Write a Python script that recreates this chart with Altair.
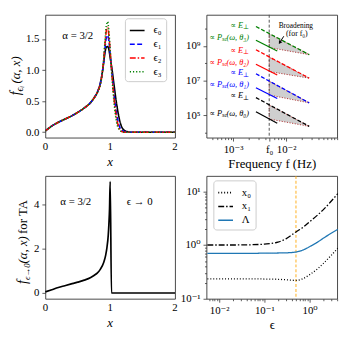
import altair as alt
import pandas as pd

FONT = "Liberation Serif, DejaVu Serif, serif"

# ---------------- (a) f_{eps_i}(alpha, x), alpha = 3/2 ----------------
xa = [0, .1, .2, .3, .4, .5, .6, .7, .75, .8, .85, .88, .9, .92, .94, .96, .98, 1.0,
      1.03, 1.06, 1.1, 1.14, 1.18, 1.22, 1.26, 1.3, 1.5, 2.0]
fa_eps0 = [.02, .10, .16, .21, .26, .32, .39, .48, .55, .64, .80, .97, 1.12, 1.28, 1.37, 1.38, 1.33, 1.20,
           1.00, .76, .45, .22, .08, .03, .01, 0, 0, 0]
fa_eps1 = [.02, .10, .16, .21, .26, .32, .39, .48, .55, .64, .79, .97, 1.14, 1.35, 1.52, 1.56, 1.47, 1.26,
           .93, .61, .29, .10, .03, .01, 0, 0, 0, 0]
fa_eps2 = [.02, .10, .16, .21, .26, .32, .39, .48, .55, .64, .78, .97, 1.16, 1.42, 1.63, 1.69, 1.56, 1.30,
           .90, .54, .22, .06, .01, 0, 0, 0, 0, 0]
fa_eps3 = [.02, .10, .16, .21, .26, .32, .39, .48, .55, .63, .77, .96, 1.17, 1.46, 1.71, 1.78, 1.62, 1.32,
           .86, .48, .16, .04, .01, 0, 0, 0, 0, 0]
eps_labels = ["ϵ₀", "ϵ₁", "ϵ₂", "ϵ₃"]
eps_colors = ["black", "blue", "red", "green"]
eps_dashes = [[1, 0], [5, 2.5], [6, 2, 1.5, 2], [1.2, 2]]
x_ticks = [0, 1, 2]
x_tick_labels = ["0", "1", "2"]

# ---------------- (b) spectra vs frequency ----------------
groups_b = ["θ₃", "θ₂", "θ₁", "θ₀"]
colors_b = ["green", "red", "blue", "black"]
f_E = [0.0027, 0.0272]          # start / end frequency of the  ∝ E⊥ (dashed) lines
f_P = [0.0027, 0.0068]          # start / end frequency of the  ∝ P_sc (solid) lines
logE_start = [10.11, 8.77, 7.39, 6.02]
logE_end = [8.49, 7.14, 5.72, 4.37]
logP_start = [9.32, 7.94, 6.59, 5.21]
logP_end = [8.70, 7.32, 5.97, 4.55]
logT_top = [9.68, 8.34, 6.96, 5.59]   # broadening triangle at f0 (upper vertex)
logT_bot = [8.90, 7.52, 6.17, 4.79]   # broadening triangle at f0 (lower vertex)
f0 = 0.0048
f_lab = 0.0020
logLabE = [10.2, 8.76, 7.47, 6.16]
logLabP = [9.49, 8.08, 6.81, 5.12]
xb_minor = [0.0004, 0.0005, 0.0006, 0.0007, 0.0008, 0.0009, 0.002, 0.003, 0.004, 0.006, 0.007,
            0.008, 0.009, 0.02, 0.03, 0.04, 0.05, 0.06, 0.07, 0.08, 0.09]
yb_minor = [1e4, 1e6, 1e8, 1e10]

# ---------------- (c) f_{eps->0}(alpha, x) for TA ----------------
xc = [0, .1, .2, .3, .4, .5, .6, .7, .75, .8, .85, .9, .93, .95, .97, .98, .99, 1.0, 1.02, 1.5, 2.0]
fc = [.05, .15, .25, .33, .41, .49, .58, .70, .79, .90, 1.08, 1.38, 1.70, 2.05, 2.6, 3.1, 3.8, 5.03,
      0.0, 0.0, 0.0]

# ---------------- (d) x0, x1, Lambda vs eps ----------------
eps_d = [0.0055, 0.01, 0.02, 0.05, 0.1, 0.2, 0.3, 0.5, 0.7, 1.0, 1.5, 2.0, 3.0, 4.2]
x0_d = [.235, .235, .235, .234, .233, .23, .226, .22, .235, .28, .36, .45, .64, .87]
x1_d = [1.0, 1.0, 1.0, 1.01, 1.04, 1.13, 1.3, 1.75, 2.1, 2.7, 3.6, 4.5, 6.5, 9.0]
lam_d = [.70, .70, .70, .70, .705, .71, .715, .74, .80, .93, 1.13, 1.33, 1.65, 1.95]
series_d = ["x₀", "x₁", "Λ"]
eps_mark = 0.5
xd_minor = [0.006, 0.007, 0.008, 0.009, 0.02, 0.03, 0.04, 0.05, 0.06, 0.07, 0.08, 0.09,
            0.2, 0.3, 0.4, 0.5, 0.6, 0.7, 0.8, 0.9, 2, 3, 4]
yd_minor = [0.2, 0.3, 0.4, 0.5, 0.6, 0.7, 0.8, 0.9, 2, 3, 4, 5, 6, 7, 8, 9]

W1, W2, H = 132, 133, 125
INT_LABEL = "datum.value < 0.5 ? '0' : (datum.value < 1.5 ? '1' : (datum.value < 3 ? '2' : '4'))"


def ptext(s, x, y, size=11, style="normal", align="center", dx=0, dy=0, angle=0, color="black"):
    return alt.Chart(pd.DataFrame({"t": [s]})).mark_text(
        font=FONT, fontSize=size, fontStyle=style, align=align, baseline="middle",
        dx=dx, dy=dy, angle=angle, color=color
    ).encode(x=alt.value(x), y=alt.value(y), text="t:N")


def leg(x, y):
    return alt.Legend(title=None, orient="none", legendX=x, legendY=y, symbolType="stroke",
                      symbolSize=225, symbolStrokeWidth=1.6, labelFont=FONT, labelFontSize=11,
                      labelOffset=8, rowPadding=0, padding=4, fillColor="white",
                      strokeColor="#cccccc", cornerRadius=3)


def int_axis():
    return alt.Axis(values=x_ticks, labels=False, title=None)


def x_label_layer(scale):
    # tick labels of the linear x axes, placed on the shared scale
    return alt.Chart(pd.DataFrame({"v": x_ticks, "t": x_tick_labels})).mark_text(
        font=FONT, fontSize=11, baseline="middle", align="center", color="black"
    ).encode(x=alt.X("v:Q", scale=scale, axis=None), y=alt.value(H + 9.5), text="t:N")


# ================= panel (a) =================
dfa = pd.DataFrame({
    "x": xa * 4,
    "f": fa_eps0 + fa_eps1 + fa_eps2 + fa_eps3,
    "s": sum([[l] * len(xa) for l in eps_labels], []),
})
xs_a = alt.Scale(domain=[0, 2], nice=False, zero=False)
ys_a = alt.Scale(domain=[-0.087, 1.89], nice=False, zero=False)
lines_a = alt.Chart(dfa).mark_line(strokeWidth=1.6, interpolate="monotone", clip=True).encode(
    x=alt.X("x:Q", scale=xs_a, axis=int_axis()),
    y=alt.Y("f:Q", scale=ys_a, axis=alt.Axis(values=[0, 0.5, 1, 1.5], format=".1f", title=None)),
    color=alt.Color("s:N", scale=alt.Scale(domain=eps_labels, range=eps_colors), legend=leg(81, 3.5)),
    strokeDash=alt.StrokeDash("s:N", scale=alt.Scale(domain=eps_labels, range=eps_dashes), legend=leg(81, 3.5)),
    order=alt.Order("x:Q"),
)
# rotated y title: dx runs along the text (upwards), dy is perpendicular (+ = towards the plot)
ya_title = [
    ptext("f", -30, 78, size=14, style="italic", align="right", angle=270),
    ptext("ϵᵢ", -30, 78, size=10, style="italic", align="left", dy=4, angle=270),
    ptext("(α, x)", -30, 78, size=13, style="italic", align="left", dx=8, angle=270),
]
pA = alt.layer(lines_a, x_label_layer(xs_a), ptext("α = 3/2", 33, 21.5, size=11), *ya_title,
               ptext("x", W1 / 2, H + 25, size=13, style="italic")).properties(width=W1, height=H)

# ================= panel (b) =================
xs_b = alt.Scale(type="log", domain=[10 ** -3.5, 10 ** -1.04], nice=False)
ys_b = alt.Scale(type="log", domain=[10 ** 3.72, 10 ** 10.78], nice=False)

rowsE, rowsP, rowsA, rowsO = [], [], [], []
for i, g in enumerate(groups_b):
    rowsE += [(g, f_E[0], 10 ** logE_start[i]), (g, f_E[1], 10 ** logE_end[i])]
    rowsP += [(g, f_P[0], 10 ** logP_start[i]), (g, f_P[1], 10 ** logP_end[i])]
    rowsA += [(g, f0, 10 ** logT_bot[i], 10 ** logT_top[i]), (g, f_E[1], 10 ** logE_end[i], 10 ** logE_end[i])]
    rowsO += [(g, 0, f0, 10 ** logT_top[i]), (g, 1, f0, 10 ** logT_bot[i]),
              (g, 2, f_E[1], 10 ** logE_end[i]), (g, 3, f0, 10 ** logT_top[i])]
dfE = pd.DataFrame(rowsE, columns=["g", "f", "v"])
dfP = pd.DataFrame(rowsP, columns=["g", "f", "v"])
dfA = pd.DataFrame(rowsA, columns=["g", "f", "lo", "hi"])
dfO = pd.DataFrame(rowsO, columns=["g", "o", "f", "v"])
cscale_b = alt.Scale(domain=groups_b, range=colors_b)


def xb(field="f", axis=None):
    return alt.X(field + ":Q", scale=xs_b, axis=axis)


def yb(field="v", axis=None):
    return alt.Y(field + ":Q", scale=ys_b, axis=axis)


tri_fill = alt.Chart(dfA).mark_area(color="#cfcfcf", opacity=1).encode(
    x=xb(), y=yb("lo"), y2="hi:Q", detail="g:N")
tri_line = alt.Chart(dfO).mark_line(color="#b03a3a", strokeDash=[1.2, 1.5], strokeWidth=1).encode(
    x=xb(), y=yb(), detail="g:N", order="o:Q")
f0_rule = alt.Chart(pd.DataFrame({"f": [f0]})).mark_rule(color="#555", strokeDash=[3, 2], strokeWidth=1).encode(
    x=xb())
main_xb = alt.Axis(values=[0.001, f0, 0.01], title="Frequency f (Hz)", orient="bottom",
                   labelExpr="datum.value < 0.002 ? '10⁻³' : (datum.value < 0.006 ? 'f₀' : '10⁻²')")
main_yb = alt.Axis(values=[1e5, 1e7, 1e9], title=None, orient="left",
                   labelExpr="datum.value < 1e6 ? '10⁵' : (datum.value < 1e8 ? '10⁷' : '10⁹')")
E_lines = alt.Chart(dfE).mark_line(strokeDash=[4, 2], strokeWidth=1.3).encode(
    x=xb(axis=main_xb), y=yb(axis=main_yb), color=alt.Color("g:N", scale=cscale_b, legend=None), detail="g:N")
P_lines = alt.Chart(dfP).mark_line(strokeWidth=1.3).encode(
    x=xb(), y=yb(), color=alt.Color("g:N", scale=cscale_b, legend=None), detail="g:N")
minor_b = alt.Chart(dfE).mark_point(opacity=0).encode(
    x=xb(axis=alt.Axis(values=xb_minor, labels=False, tickSize=2, title=None, orient="bottom")),
    y=yb(axis=alt.Axis(values=yb_minor, labels=False, tickSize=2, title=None, orient="left")))

labE = pd.DataFrame({"f": [f_lab] * 4, "v": [10 ** v for v in logLabE], "c": colors_b})
labP = pd.DataFrame({"f": [f_lab] * 4, "v": [10 ** v for v in logLabP], "c": colors_b,
                     "t": ["(ω, " + g + ")" for g in groups_b]})


def labtext(df, txt=None, size=8.5, dx=0, dy=0, style="italic"):
    enc = dict(x=xb(), y=yb(), color=alt.Color("c:N", scale=None))
    mk = dict(font=FONT, fontSize=size, fontStyle=style, align="right", baseline="middle", dx=dx, dy=dy)
    if txt is None:
        return alt.Chart(df).mark_text(**mk).encode(text="t:N", **enc)
    return alt.Chart(df).mark_text(text=txt, **mk).encode(**enc)


labels_b = [
    labtext(labE, "∝ E", dx=-6),
    labtext(labE, "⊥", size=6.5, dy=2.5),
    labtext(labP),
    labtext(labP, "sc", size=6.5, dx=-22, dy=2),
    labtext(labP, "∝ P", dx=-27.5),
]
arrow = alt.Chart(pd.DataFrame({"a": [0]})).mark_rule(color="black", strokeWidth=1).encode(
    x=alt.value(78.7), y=alt.value(21.8), x2=alt.value(75.2), y2=alt.value(27.2))
head = alt.Chart(pd.DataFrame({"a": [0]})).mark_point(
    shape="triangle-down", filled=True, color="black", size=16, angle=32, opacity=1).encode(
    x=alt.value(74.6), y=alt.value(28.2))
pB = alt.layer(
    tri_fill, tri_line, f0_rule, E_lines, P_lines, minor_b, *labels_b, arrow, head,
    ptext("Broadening", 91, 11.2, size=7.5),
    ptext("(for f₀)", 92, 19.4, size=8),
).resolve_axis(x="independent", y="independent").properties(width=W2, height=H)

# ================= panel (c) =================
dfc = pd.DataFrame({"x": xc, "f": fc})
xs_c = alt.Scale(domain=[0, 2], nice=False, zero=False)
line_c = alt.Chart(dfc).mark_line(color="black", strokeWidth=1.7, interpolate="monotone").encode(
    x=alt.X("x:Q", scale=xs_c, axis=int_axis()),
    y=alt.Y("f:Q", scale=alt.Scale(domain=[-0.26, 5.28], nice=False, zero=False),
            axis=alt.Axis(values=[0, 2, 4], labelExpr=INT_LABEL, title=None)),
    order="x:Q",
)
yc_title = [
    ptext("f", -23, 106, size=14, style="italic", align="right", angle=270),
    ptext("ϵ→0", -23, 106, size=9, style="italic", align="left", dy=4, angle=270),
    ptext("(α, x)", -23, 106, size=13, style="italic", align="left", dx=17, angle=270),
    ptext("for TA", -23, 106, size=13, align="left", dx=47, angle=270),
]
pC = alt.layer(line_c, x_label_layer(xs_c), ptext("α = 3/2", 31, 26.5), ptext("ϵ → 0", 96, 26.5), *yc_title,
               ptext("x", W1 / 2, H + 25, size=13, style="italic")).properties(width=W1, height=H)

# ================= panel (d) =================
dfd = pd.DataFrame({
    "e": eps_d * 3,
    "v": x0_d + x1_d + lam_d,
    "s": sum([[s] * len(eps_d) for s in series_d], []),
})
xs_d = alt.Scale(type="log", domain=[10 ** -2.28, 10 ** 0.61], nice=False)
ys_d = alt.Scale(type="log", domain=[0.1, 10 ** 1.284], nice=False)
main_xd = alt.Axis(values=[0.01, 0.1, 1], title="ϵ", orient="bottom",
                   labelExpr="datum.value < 0.05 ? '10⁻²' : (datum.value < 0.5 ? '10⁻¹' : '10⁰')")
main_yd = alt.Axis(values=[0.1, 1, 10], title=None, orient="left",
                   labelExpr="datum.value < 0.5 ? '10⁻¹' : (datum.value < 5 ? '10⁰' : '10¹')")
rule_d = alt.Chart(pd.DataFrame({"e": [eps_mark]})).mark_rule(
    color="orange", opacity=0.55, strokeDash=[3, 2], strokeWidth=1.6).encode(
    x=alt.X("e:Q", scale=xs_d, axis=None))
lines_d = alt.Chart(dfd).mark_line(strokeWidth=1.3, interpolate="monotone").encode(
    x=alt.X("e:Q", scale=xs_d, axis=main_xd),
    y=alt.Y("v:Q", scale=ys_d, axis=main_yd),
    color=alt.Color("s:N", scale=alt.Scale(domain=series_d, range=["black", "black", "#1f77b4"]),
                    legend=leg(7, 4.5)),
    strokeDash=alt.StrokeDash("s:N", scale=alt.Scale(domain=series_d, range=[[1, 2], [6, 2, 1.5, 2], [1, 0]]),
                              legend=leg(7, 4.5)),
    order="e:Q",
)
minor_d = alt.Chart(dfd).mark_point(opacity=0).encode(
    x=alt.X("e:Q", scale=xs_d, axis=alt.Axis(values=xd_minor, labels=False, tickSize=2, title=None, orient="bottom")),
    y=alt.Y("v:Q", scale=ys_d, axis=alt.Axis(values=yd_minor, labels=False, tickSize=2, title=None, orient="left")))
pD = alt.layer(rule_d, lines_d, minor_d).resolve_axis(x="independent", y="independent").properties(
    width=W2, height=H)

chart = alt.concat(pA, pB, pC, pD, columns=2, spacing={"row": 39, "column": 32}, bounds="flush").resolve_scale(
    color="independent", strokeDash="independent"
).properties(
    padding={"left": 0, "top": 3, "right": 4, "bottom": 4}
).configure(font=FONT).configure_axis(
    labelFont=FONT, titleFont=FONT, labelFontSize=11, titleFontSize=13, titleFontWeight="normal",
    labelColor="black", titleColor="black", tickColor="#333", tickWidth=0.8, tickSize=3.5,
    labelPadding=3, titlePadding=3, domain=False, grid=False, labelFlush=False, labelOverlap=False,
).configure_view(stroke="#333", strokeWidth=0.9).configure_legend(labelFont=FONT)

chart.save("out.html", embed_options={"renderer": "svg", "actions": False})
